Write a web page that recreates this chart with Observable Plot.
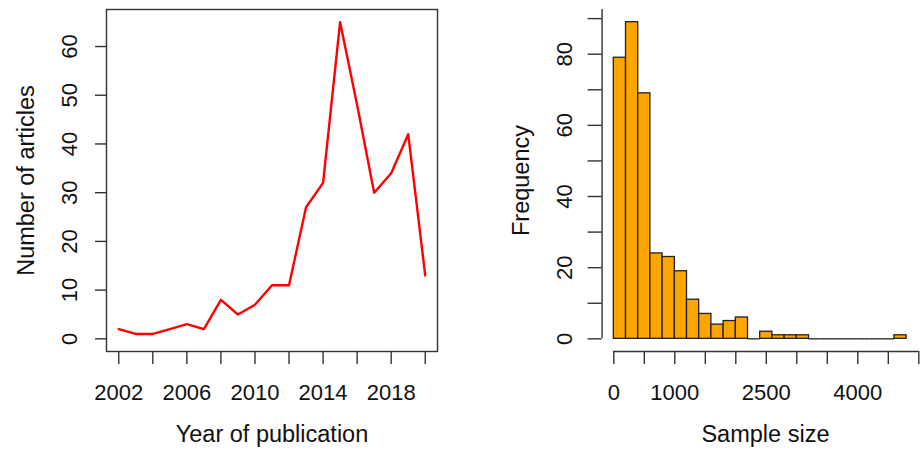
<!DOCTYPE html>
<html><head><meta charset="utf-8">
<script src="https://cdn.jsdelivr.net/npm/d3@7"></script>
<script src="https://cdn.jsdelivr.net/npm/@observablehq/plot@0.6"></script>
<style>
body{margin:0;background:#fff;}
#wrap{position:relative;width:920px;height:450px;overflow:hidden;background:#fff;}
#wrap svg{position:absolute;top:0;}
</style></head><body><div id="wrap"></div>
<script>
// ---- Left panel data: articles per year ----
const years = [2002,2003,2004,2005,2006,2007,2008,2009,2010,2011,2012,2013,2014,2015,2016,2017,2018,2019,2020];
const articles = [2,1,1,2,3,2,8,5,7,11,11,27,32,65,48,30,34,42,13];
const yearTicks = [2002,2004,2006,2008,2010,2012,2014,2016,2018,2020];
const yearLabels = [2002,2006,2010,2014,2018];
const articleTicks = [0,10,20,30,40,50,60];

// ---- Right panel data: histogram of sample size ----
const binLo = [0,200,400,600,800,1000,1200,1400,1600,1800,2000,2200,2400,2600,2800,3000,3200,3400,3600,3800,4000,4200,4400,4600];
const binHi = [200,400,600,800,1000,1200,1400,1600,1800,2000,2200,2400,2600,2800,3000,3200,3400,3600,3800,4000,4200,4400,4600,4800];
const binCounts = [79,89,69,24,23,19,11,7,4,5,6,0,2,1,1,1,0,0,0,0,0,0,0,1];
const sizeTicks = [0,500,1000,1500,2000,2500,3000,3500,4000,4500,5000];
const sizeLabels = [0,1000,2500,4000];
const freqTicks = [0,10,20,30,40,50,60,70,80,90];
const freqLabels = [0,20,40,60,80];

const lineData = years.map((y, i) => ({year: y, n: articles[i]}));
const bins = binLo.map((lo, i) => ({lo, hi: binHi[i], count: binCounts[i]}));

const FONT = "'Liberation Sans', Arial, sans-serif";
const INK = "#111";
const AX = "#333";

const left = Plot.plot({
  width: 460, height: 450,
  marginLeft: 106, marginRight: 23, marginTop: 9, marginBottom: 99,
  style: {fontFamily: FONT, fontSize: "22px", color: INK, background: "transparent", overflow: "visible"},
  x: {domain: [2001.28, 2020.72]},
  y: {domain: [-2.6, 67.6]},
  marks: [
    Plot.frame({stroke: AX, strokeWidth: 1.4}),
    Plot.axisX({ticks: yearTicks, tickSize: 13, tickPadding: 20, stroke: AX, strokeWidth: 1.4,
      tickFormat: d => yearLabels.includes(d) ? String(d) : "", label: null, fontSize: 22}),
    Plot.axisY({ticks: articleTicks, tickSize: 11, tickRotate: -90, tickPadding: 19, stroke: AX, strokeWidth: 1.4,
      tickFormat: d => String(d), label: null, fontSize: 22}),
    Plot.line(lineData, {x: "year", y: "n", stroke: "#ff0000", strokeWidth: 2.4}),
    Plot.text(["Year of publication"], {frameAnchor: "bottom", dy: 90.7, lineAnchor: "bottom", textAnchor: "middle", fontSize: 23.5, fill: INK}),
    Plot.text(["Number of articles"], {frameAnchor: "left", dx: -72.5, rotate: -90, lineAnchor: "bottom", textAnchor: "middle", fontSize: 23.5, fill: INK})
  ]
});

const right = Plot.plot({
  width: 460, height: 450,
  marginLeft: 141.6, marginRight: 1.7, marginTop: 9, marginBottom: 99,
  style: {fontFamily: FONT, fontSize: "22px", color: INK, background: "transparent", overflow: "visible"},
  x: {domain: [-192, 5000]},
  y: {domain: [-3.56, 92.56]},
  marks: [
    Plot.rect(bins.filter(d => d.count > 0), {x1: "lo", x2: "hi", y1: 0, y2: "count", fill: "#FFA500", stroke: "#222", strokeWidth: 1.3}),
    Plot.ruleY(bins.filter(d => d.count === 0), {x1: "lo", x2: "hi", y: 0, stroke: "#222", strokeWidth: 1.3}),
    Plot.ruleY([-3.56], {x1: 0, x2: 5000, stroke: AX, strokeWidth: 1.4}),
    Plot.axisX({ticks: sizeTicks, tickSize: 13, tickPadding: 20, stroke: AX, strokeWidth: 1.4,
      tickFormat: d => sizeLabels.includes(d) ? String(d) : "", label: null, fontSize: 22}),
    Plot.ruleX([-192], {y1: 0, y2: 92.56, stroke: AX, strokeWidth: 1.4}),
    Plot.axisY({ticks: freqTicks, tickSize: 14, tickRotate: -90, tickPadding: 16, stroke: AX, strokeWidth: 1.4,
      tickFormat: d => freqLabels.includes(d) ? String(d) : "", label: null, fontSize: 22}),
    Plot.text(["Sample size"], {frameAnchor: "bottom", dx: 5, dy: 90.7, lineAnchor: "bottom", textAnchor: "middle", fontSize: 23.5, fill: INK}),
    Plot.text(["Frequency"], {frameAnchor: "left", dx: -73.6, rotate: -90, lineAnchor: "bottom", textAnchor: "middle", fontSize: 23.5, fill: INK})
  ]
});

left.style.left = "0px";
right.style.left = "460px";
const wrap = document.getElementById("wrap");
wrap.appendChild(left);
wrap.appendChild(right);
</script>
</body></html>
